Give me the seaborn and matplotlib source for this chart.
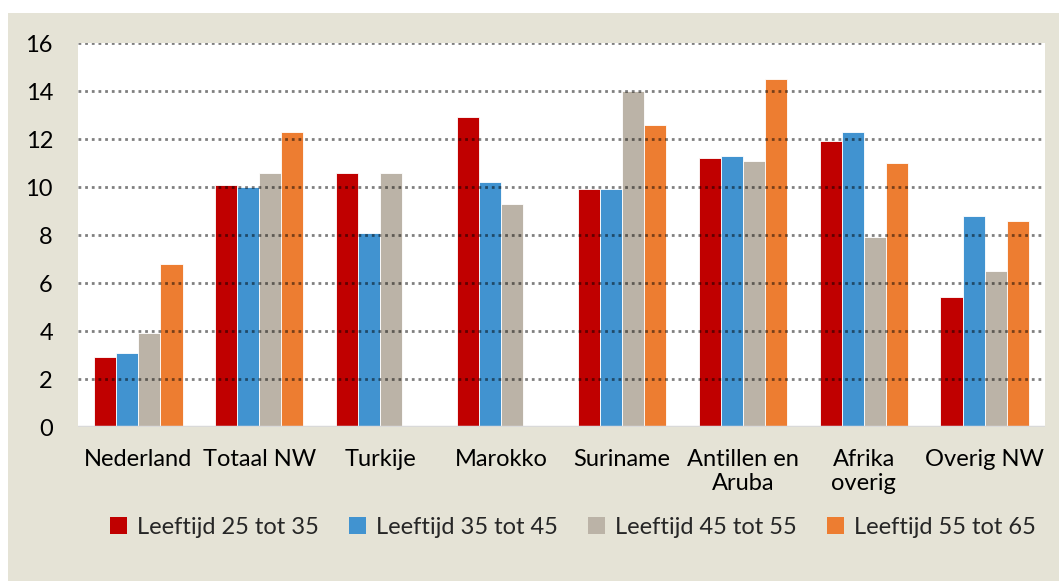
import matplotlib
matplotlib.use("Agg")
import matplotlib.pyplot as plt
import seaborn as sns
import pandas as pd
import numpy as np
from matplotlib.patches import Rectangle, Patch

# Percentages per herkomstgroep and leeftijdsklasse
categories = ["Nederland", "Totaal NW", "Turkije", "Marokko", "Suriname",
              "Antillen en\nAruba", "Afrika\noverig", "Overig NW"]
leeftijd_25_35 = [2.9, 10.1, 10.6, 12.9, 9.9, 11.2, 11.9, 5.4]
leeftijd_35_45 = [3.1, 10.0, 8.1, 10.2, 9.9, 11.3, 12.3, 8.8]
leeftijd_45_55 = [3.9, 10.6, 10.6, 9.3, 14.0, 11.1, 7.9, 6.5]
leeftijd_55_65 = [6.8, 12.3, np.nan, np.nan, 12.6, 14.5, 11.0, 8.6]
series_names = ["Leeftijd 25 tot 35", "Leeftijd 35 tot 45",
                "Leeftijd 45 tot 55", "Leeftijd 55 tot 65"]
yticks = [0, 2, 4, 6, 8, 10, 12, 14, 16]

colors = ["#C00000", "#4193D0", "#BBB3A7", "#ED7D31"]
beige = "#E5E3D6"
fs = 17

rows = []
for name, vals in zip(series_names,
                      [leeftijd_25_35, leeftijd_35_45, leeftijd_45_55, leeftijd_55_65]):
    for cat, v in zip(categories, vals):
        rows.append({"herkomst": cat, "groep": name, "waarde": v})
df = pd.DataFrame(rows)

sns.set_theme(style="white")
plt.rcParams["font.family"] = ["Lato", "DejaVu Sans"]

fig = plt.figure(figsize=(10.59, 5.81), dpi=100, facecolor="white")
fig.patches.append(Rectangle((8 / 1059, 0), 1 - 8 / 1059, 1 - 13 / 581,
                             transform=fig.transFigure, facecolor=beige,
                             edgecolor="none", zorder=-10))

ax = fig.add_axes([78 / 1059, 1 - 427 / 581, (1045 - 78) / 1059, (427 - 43) / 581])
ax.set_facecolor("white")

sns.barplot(data=df, x="herkomst", y="waarde", hue="groep", order=categories,
            hue_order=series_names, palette=colors, width=0.73, ax=ax,
            edgecolor="#FFFFFF", linewidth=0.6, legend=False, errorbar=None,
            saturation=1)

ax.set_ylim(0, 16)
ax.set_xlim(-0.5, len(categories) - 0.5)
ax.set_yticks(yticks)
ax.set_yticklabels([str(t) for t in yticks])
ax.set_xlabel("")
ax.set_ylabel("")

# dotted horizontal gridlines drawn over the bars
for t in yticks[1:]:
    ax.axhline(t, color="black", alpha=0.5, linestyle=(0, (1.0, 1.4)),
               linewidth=2.0, zorder=5)
ax.axhline(0, color="#D9D9D9", linewidth=2.5, zorder=6)

for s in ax.spines.values():
    s.set_visible(False)

ax.tick_params(axis="y", length=0, pad=18, labelsize=fs, labelcolor="black")
ax.tick_params(axis="x", length=0, pad=15.5, labelsize=fs, labelcolor="black")
for lbl in ax.get_xticklabels():
    lbl.set_linespacing(1.2)
    lbl.set_verticalalignment("top")

handles = [Patch(facecolor=c, edgecolor="none") for c in colors]
fig.legend(handles, series_names, loc="center", bbox_to_anchor=(0.541, 1 - 527 / 581),
           ncol=4, frameon=False, fontsize=fs, handlelength=0.72, handleheight=0.72,
           handletextpad=0.4, columnspacing=1.3)

fig.savefig("out.png", dpi=100, facecolor=fig.get_facecolor())
